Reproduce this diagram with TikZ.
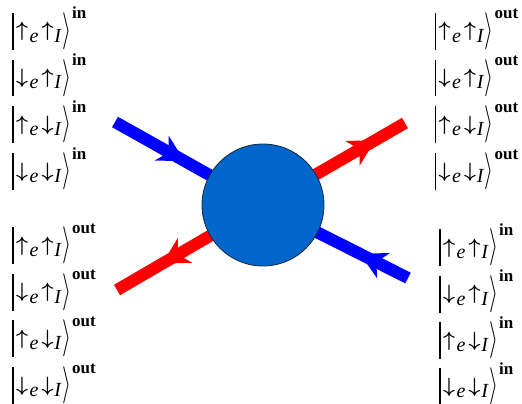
\documentclass[tikz,border=0pt]{standalone}
\usepackage{amsmath}
\usepackage{graphicx}
\usepackage{fontspec}
\setmainfont{Liberation Serif}
\usetikzlibrary{arrows.meta,decorations.markings}
\newcommand{\subfnt}{\fontsize{20}{22}\selectfont\itshape}
\newcommand{\supfnt}{\fontsize{17}{19}\selectfont\bfseries}
\newcommand{\ketlabel}[3]{%
\rule[-13pt]{1.5pt}{37pt}%
\makebox[48.5pt][l]{\hspace{2.5pt}$\boldsymbol{#1}$\hspace{1.5pt}\raisebox{-5.5pt}{\subfnt e}\hspace{3pt}$\boldsymbol{#2}$\hspace{1pt}\raisebox{-5.5pt}{\subfnt I}}%
\raisebox{-3.75pt}{\resizebox*{9pt}{37pt}{$\rangle$}}%
\hspace{1pt}\raisebox{18pt}{\supfnt #3}}
\definecolor{ballblue}{RGB}{0,102,204}
\tikzset{
  ketnode/.style={anchor=base west, inner sep=0pt, font=\fontsize{22}{26}\selectfont},
  beam/.style={line width=12pt, line cap=butt},
  bluebeam/.style={beam, draw={rgb,255:red,0;green,0;blue,255}},
  redbeam/.style={beam, draw={rgb,255:red,255;green,0;blue,0}},
  headat/.style={postaction={decorate}, decoration={markings,
     mark=at position #1 with {\arrow{Stealth[length=26pt,width=28pt,inset=8pt]}}}},
  ball/.style={circle, draw={rgb,255:red,20;green,40;blue,60}, line width=0.8pt,
     fill=ballblue, minimum size=122pt, inner sep=0pt}
}
\begin{document}
\begin{tikzpicture}[x=1pt,y=-1pt]
\useasboundingbox (0,0) rectangle (522,404);
% labels
\node[ketnode] (tl1) at (12,37)  {\ketlabel{\uparrow}{\uparrow}{in}};
\node[ketnode] (tl2) at (12,83.5)  {\ketlabel{\downarrow}{\uparrow}{in}};
\node[ketnode] (tl3) at (12,130) {\ketlabel{\uparrow}{\downarrow}{in}};
\node[ketnode] (tl4) at (12,177) {\ketlabel{\downarrow}{\downarrow}{in}};
\node[ketnode] (tr1) at (434.5,37)  {\ketlabel{\uparrow}{\uparrow}{out}};
\node[ketnode] (tr2) at (434.5,83.5)  {\ketlabel{\downarrow}{\uparrow}{out}};
\node[ketnode] (tr3) at (434.5,130) {\ketlabel{\uparrow}{\downarrow}{out}};
\node[ketnode] (tr4) at (434.5,177) {\ketlabel{\downarrow}{\downarrow}{out}};
\node[ketnode] (bl1) at (12,251) {\ketlabel{\uparrow}{\uparrow}{out}};
\node[ketnode] (bl2) at (12,297.5) {\ketlabel{\downarrow}{\uparrow}{out}};
\node[ketnode] (bl3) at (12,344) {\ketlabel{\uparrow}{\downarrow}{out}};
\node[ketnode] (bl4) at (12,391) {\ketlabel{\downarrow}{\downarrow}{out}};
\node[ketnode] (br1) at (439,253) {\ketlabel{\uparrow}{\uparrow}{in}};
\node[ketnode] (br2) at (439,299.5) {\ketlabel{\downarrow}{\uparrow}{in}};
\node[ketnode] (br3) at (439,346) {\ketlabel{\uparrow}{\downarrow}{in}};
\node[ketnode] (br4) at (439,392) {\ketlabel{\downarrow}{\downarrow}{in}};
% beams
\coordinate (ctr) at (263,205);
\coordinate (pa) at (115,122);
\coordinate (pb) at (405,123);
\coordinate (pc) at (117,290);
\coordinate (pd) at (408,278);
\draw[bluebeam, headat=0.47] (pa) -- (ctr);
\draw[redbeam, headat=0.79] (ctr) -- (pb);
\draw[redbeam, headat=0.69] (ctr) -- (pc);
\draw[bluebeam, headat=0.33] (pd) -- (ctr);
\node[ball] (scat) at (ctr) {};
\end{tikzpicture}
\end{document}
